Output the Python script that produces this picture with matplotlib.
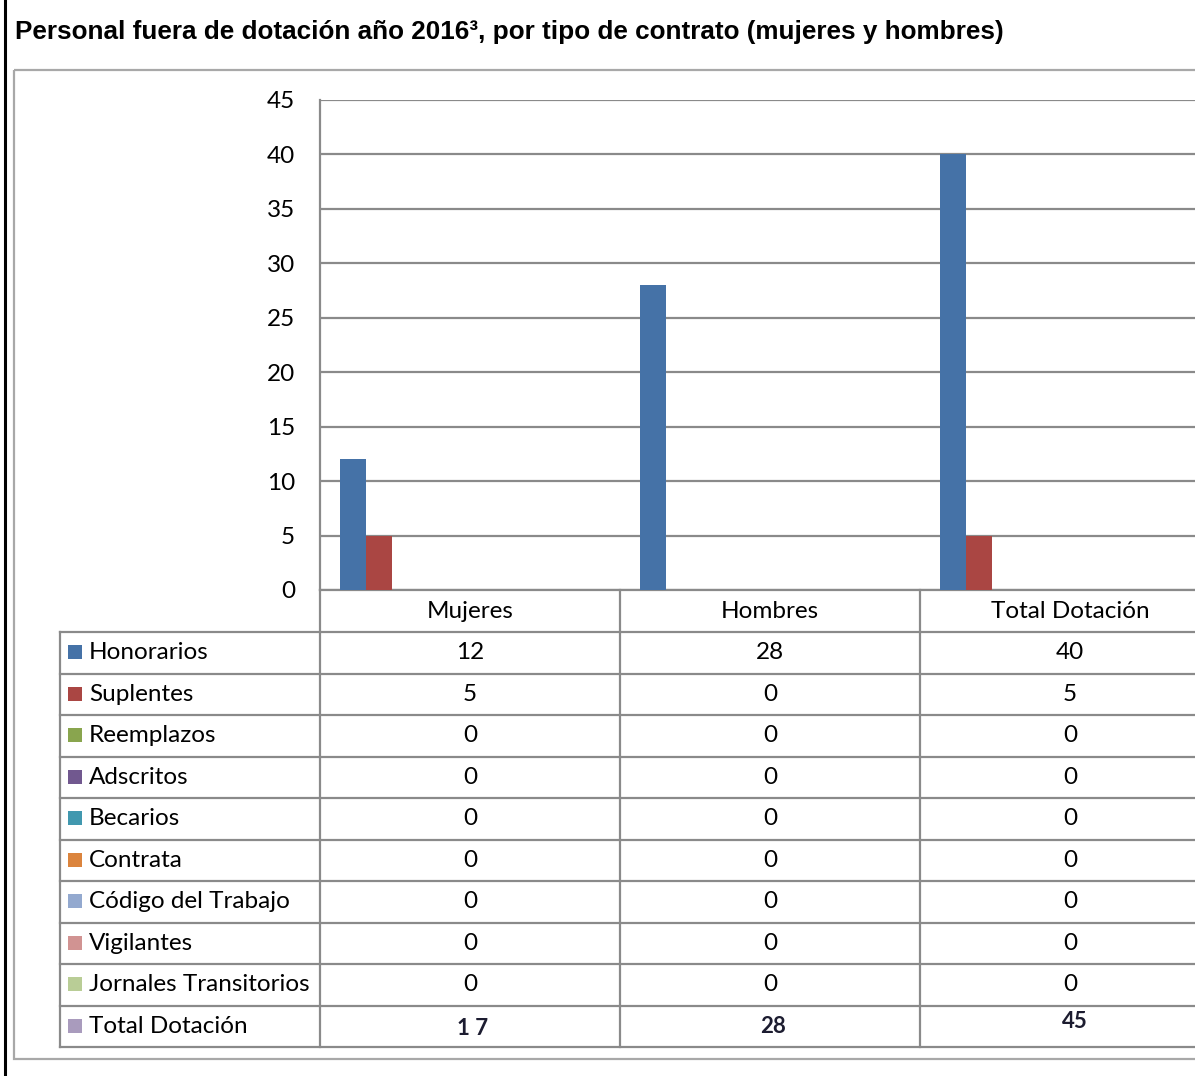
import matplotlib.pyplot as plt
from matplotlib.patches import Rectangle

categories = ['Mujeres', 'Hombres', 'Total Dotación']
series = ['Honorarios', 'Suplentes', 'Reemplazos', 'Adscritos', 'Becarios',
          'Contrata', 'Código del Trabajo', 'Vigilantes', 'Jornales Transitorios',
          'Total Dotación']
values = [
    [12, 28, 40],
    [5, 0, 5],
    [0, 0, 0],
    [0, 0, 0],
    [0, 0, 0],
    [0, 0, 0],
    [0, 0, 0],
    [0, 0, 0],
    [0, 0, 0],
]
total_labels = ['1 7', '28', '45']
colors = ['#4572A7', '#AA4643', '#89A54E', '#71588F', '#4198AF',
          '#DB843D', '#93A9CF', '#D19392', '#B9CD96', '#A99BBD']
yticks = [0, 5, 10, 15, 20, 25, 30, 35, 40, 45]

title = 'Personal fuera de dotación año 2016³, por tipo de contrato (mujeres y hombres)'

W, H = 1195, 1076
fig = plt.figure(figsize=(W / 100, H / 100), dpi=100)
plt.rcParams['font.family'] = ['Lato', 'DejaVu Sans']

# pixel coordinate layer for frame, title and data table
bg = fig.add_axes([0, 0, 1, 1])
bg.set_xlim(0, W)
bg.set_ylim(H, 0)
bg.axis('off')

grey = '#8a8a8a'
fs = 17.5

# plot area
x0, y_top, y_bot = 320, 100, 590
col_w = 300
ax = fig.add_axes([x0 / W, (H - y_bot) / H, 3 * col_w / W, (y_bot - y_top) / H])
ax.set_facecolor('none')
bw = 26 / col_w
start = 19.5 / col_w
for k, vals in enumerate(values):
    lefts = [i - 0.5 + start + k * bw for i in range(len(categories))]
    ax.bar(lefts, vals, width=bw, align='edge', color=colors[k], zorder=3)
ax.set_xlim(-0.5, 2.5)
ax.set_ylim(0, 45)
ax.set_yticks(yticks)
ax.set_xticks([])
ax.yaxis.grid(True, color=grey, lw=1.6, zorder=0)
ax.tick_params(axis='y', length=0, pad=18, labelsize=fs)
for s in ['top', 'right']:
    ax.spines[s].set_visible(False)
for s in ['left', 'bottom']:
    ax.spines[s].set_color(grey)
    ax.spines[s].set_linewidth(1.6)

# outer frames
bg.plot([5, 5], [0, H], color='black', lw=2.2)
bg.add_patch(Rectangle((14, 70), W, 989, fill=False, ec='#a8a8a8', lw=1.6))

bg.text(15, 32, title, fontsize=18.8, fontweight='bold',
        family=['Liberation Sans', 'DejaVu Sans'], va='center', ha='left')

# data table
t_left = 60
row_top = 632
row_h = 41.5
n_rows = len(series)
t_bot = row_top + n_rows * row_h
bg.plot([x0, x0], [y_bot, t_bot], color=grey, lw=1.6)
bg.plot([t_left, t_left], [row_top, t_bot], color=grey, lw=1.6)
for j in range(1, len(categories) + 1):
    bg.plot([x0 + j * col_w] * 2, [y_bot, t_bot], color=grey, lw=1.6)
for r in range(n_rows + 1):
    y = row_top + r * row_h
    bg.plot([t_left, W], [y, y], color=grey, lw=1.6)

for j, c in enumerate(categories):
    bg.text(x0 + (j + 0.5) * col_w, (y_bot + row_top) / 2, c,
            fontsize=fs, ha='center', va='center')

for r, name in enumerate(series):
    yc = row_top + (r + 0.5) * row_h
    bg.add_patch(Rectangle((68, yc - 7.5), 14, 14, color=colors[r], lw=0))
    bg.text(89, yc, name, fontsize=fs, ha='left', va='center')
    if r < len(values):
        for j, v in enumerate(values[r]):
            bg.text(x0 + (j + 0.5) * col_w, yc, str(v), fontsize=fs,
                    ha='center', va='center')

# total row is pasted in a different font, slightly off-centre
nudge = [(3, 2), (3, 0), (5, -5)]
yc = row_top + (n_rows - 0.5) * row_h
for j, lab in enumerate(total_labels):
    bg.text(x0 + (j + 0.5) * col_w + nudge[j][0], yc + nudge[j][1], lab,
            fontsize=16, fontweight='bold', ha='center', va='center',
            color='#1c1c30')

fig.savefig('out.png', dpi=100)
